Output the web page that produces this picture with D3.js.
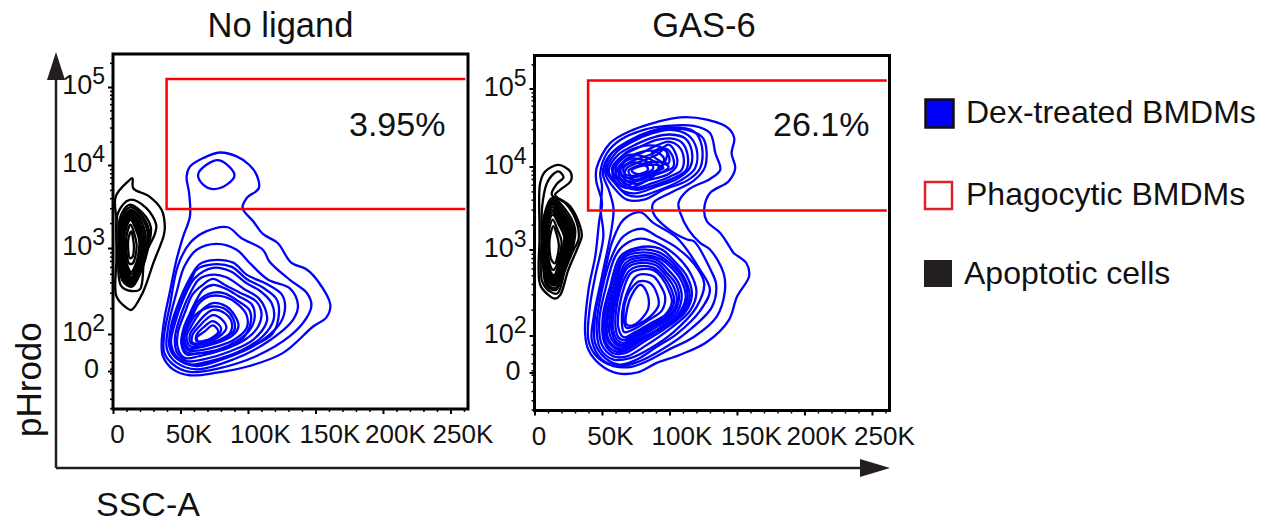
<!DOCTYPE html>
<html>
<head>
<meta charset="utf-8">
<script src="https://cdn.jsdelivr.net/npm/d3@7"></script>
<style>
body { margin: 0; background: #fff; }
text { font-family: "Liberation Sans", Arial, sans-serif; fill: #111; }
</style>
</head>
<body>
<div id="chart"></div>
<script>
// x values are SSC-A in thousands, y values are decades on the biexponential axis (2 = 10^2)
const xTicks = [0, 50, 100, 150, 200, 250];
const xTickLabels = ["0", "50K", "100K", "150K", "200K", "250K"];
const xMinorTicks = [10, 20, 30, 40, 60, 70, 80, 90, 110, 120, 130, 140, 160, 170, 180, 190, 210, 220, 230, 240, 260];
const yTicks = [0, 2, 3, 4, 5];
const yMinorTicks = [-2, -1.5, -1, -0.5, -0.12, 0.12, 0.5, 1, 1.5, 2.3, 2.48, 2.6, 2.7, 2.78, 2.85, 2.9, 2.95,
    3.3, 3.48, 3.6, 3.7, 3.78, 3.85, 3.9, 3.95, 4.3, 4.48, 4.6, 4.7, 4.78, 4.85, 4.9, 4.95, 5.3];
const gateX = [39.7, 261];
const gateY = [3.47, 5.1];
const panelTitles = ["No ligand", "GAS-6"];
const gatePercents = ["3.95%", "26.1%"];
const legendLabels = ["Dex-treated BMDMs", "Phagocytic BMDMs", "Apoptotic cells"];

const leftBlue = [
    [[79,4.16],[91.6,4.11],[101,4.0],[106.4,3.88],[108,3.72],[99,3.6],[96,3.48],[104,3.32],[111,3.17],[122,3.06],[132,2.83],[143.5,2.75],[152,2.61],[161,2.34],[158,2.19],[148.5,2.09],[126,0.98],[101,0.27],[77,-0.09],[57,-0.23],[44.5,0.09],[37,0.8],[36,1.43],[38,2.17],[42,2.48],[47,2.86],[52,3.14],[57,3.38],[56.4,3.66],[54.5,3.86],[57,3.98],[67,4.09]],
    [[79,4.06],[90,3.88],[84,3.76],[74,3.71],[67,3.76],[63,3.88],[69,4.0]],
    [[85,3.25],[95,3.12],[111,2.98],[116,2.84],[131,2.63],[143.5,2.48],[147,2.34],[143.5,2.19],[131,1.88],[106,0.8],[77,0.12],[57,-0.05],[46,0.27],[38,0.98],[38,2.0],[42,2.32],[48,2.79],[57,3.06],[69,3.2]],
    [[77,3.05],[91.6,2.98],[101,2.83],[115,2.63],[131,2.53],[137,2.34],[133.6,2.17],[114,1.55],[89,0.62],[62,0.09],[47,0.45],[40,1.16],[41,2.09],[47,2.48],[53,2.79],[62,2.98]],
    [[74,2.86],[89,2.83],[99,2.69],[114,2.58],[125,2.46],[127.5,2.32],[124,2.13],[106,1.43],[84,0.71],[62,0.27],[48,0.63],[42,1.25],[43,2.09],[49.5,2.4],[57,2.65],[64,2.81]],
    [[74,2.81],[88,2.78],[99,2.64],[111,2.54],[121,2.41],[123,2.25],[118,2.0],[100,1.25],[78,0.62],[60,0.32],[47.5,0.7],[42.5,1.38],[44,2.1],[51,2.4],[58.5,2.65],[62,2.75]],
    [[74,2.77],[87,2.73],[99,2.59],[109,2.5],[117.5,2.36],[119,2.17],[111,1.88],[94,1.07],[72,0.54],[57,0.36],[47,0.8],[43,1.52],[46,2.13],[52,2.4],[60.6,2.65]],
    [[74,2.69],[84,2.66],[96.5,2.53],[107.7,2.42],[112.6,2.3],[114,2.15],[104,1.7],[87,1.07],[67,0.63],[54.5,0.54],[47,1.07],[46,1.88],[50.7,2.24],[58,2.5],[64,2.64]],
    [[74,2.64],[84,2.56],[94,2.48],[106,2.38],[110,2.24],[107.7,2.09],[98,1.7],[82,1.16],[64,0.8],[53,0.71],[48,1.25],[48,2.01],[53,2.24],[59,2.46],[65.6,2.56]],
    [[74,2.57],[83,2.53],[93,2.44],[103,2.34],[105,2.2],[101.5,2.05],[91.6,1.61],[78,1.16],[63,0.95],[54.5,0.89],[50.7,1.43],[52,2.05],[57,2.24],[62,2.4],[67,2.52]],
    [[74,2.48],[83,2.47],[92,2.39],[101,2.28],[102,2.13],[95,1.66],[85,1.25],[70,1.0],[55,1.0],[51,1.55],[53,2.07],[58,2.23],[63,2.38]],
    [[72,2.44],[83,2.43],[93,2.34],[99,2.22],[99,2.07],[90,1.7],[78,1.34],[64,1.12],[55.7,1.12],[52,1.7],[54.5,2.09],[59,2.22],[64,2.36]],
    [[74,2.36],[84,2.32],[90,2.22],[93,2.09],[88,1.88],[77,1.52],[64,1.3],[57,1.34],[54.5,1.88],[58,2.09],[63,2.22],[68,2.31]],
    [[74,2.32],[84,2.28],[89,2.18],[90,2.05],[83,1.77],[71,1.42],[61,1.22],[56,1.22],[53,1.8],[56,2.09],[61,2.22],[66,2.28]],
    [[74,2.28],[83,2.24],[88,2.13],[86.6,2.01],[78,1.66],[65.6,1.43],[58,1.48],[57,1.96],[62,2.11],[68,2.22]],
    [[74,2.22],[80.6,2.17],[84,2.07],[79,1.88],[69,1.57],[59,1.52],[59,1.96],[64,2.09],[69,2.17]],
    [[74,2.15],[80,2.07],[78,1.96],[69,1.66],[62,1.61],[62,1.96],[68,2.09]],
    [[74,2.1],[78,2.03],[73,1.79],[64,1.55],[62,1.79],[68,2.03]]
];

const leftBlack = [
    [[14.4,3.84],[15,3.72],[27,3.62],[36,3.46],[38.4,3.26],[37.6,3.15],[30,2.83],[22,2.48],[13.6,2.28],[8.7,2.32],[2.5,2.44],[2.5,2.86],[2.5,3.33],[2,3.62],[11,3.8]],
    [[12.4,3.58],[24.7,3.48],[32,3.28],[31,3.17],[23.5,2.9],[20,2.52],[13.6,2.5],[6,2.56],[3.7,2.86],[3.7,3.42]],
    [[12,3.52],[22,3.42],[28,3.25],[26,3.0],[20,2.7],[14,2.55],[7,2.62],[4.5,3.0],[5,3.35]],
    [[12.5,3.49],[21.5,3.39],[26.5,3.22],[25,2.97],[19.5,2.69],[14,2.56],[7.5,2.64],[5,3],[5.5,3.32]],
    [[13,3.46],[21,3.36],[25.5,3.2],[24,2.95],[19,2.7],[14,2.58],[8,2.66],[5.5,3.0],[6,3.3]],
    [[13,3.44],[20,3.34],[24,3.17],[23,2.95],[18.5,2.71],[14,2.6],[8.5,2.68],[6,3],[6.5,3.29]],
    [[13,3.42],[19,3.32],[23,3.15],[22,2.95],[18,2.72],[14,2.62],[9,2.7],[6.5,3],[7,3.28]],
    [[13,3.4],[18.5,3.3],[22,3.13],[21,2.93],[17.5,2.73],[14,2.64],[9.5,2.72],[7,3],[7.5,3.26]],
    [[13,3.38],[18,3.28],[21,3.12],[20,2.92],[17,2.75],[14,2.66],[10,2.74],[7.5,3],[8,3.25]],
    [[13,3.36],[17.5,3.25],[20,3.1],[19,2.91],[16.5,2.76],[13.8,2.69],[10,2.77],[8,3],[8.5,3.22]],
    [[13,3.34],[17,3.22],[19.5,3.08],[18.5,2.9],[16,2.78],[13.5,2.72],[10.5,2.8],[8.5,3],[9,3.2]],
    [[13,3.28],[16,3.16],[17.5,3.04],[16.5,2.9],[14.5,2.82],[12,2.82],[10,2.95],[10,3.14]],
    [[13.5,3.2],[15,3.1],[15.5,3],[14.5,2.9],[12.5,2.88],[11.2,3],[11.5,3.12]]
];

const rightBlue = [
    [[108,4.63],[127.7,4.6],[143.7,4.49],[148,4.36],[146,4.17],[148.7,3.98],[143.7,3.82],[130,3.68],[125.7,3.48],[127.7,3.34],[137.6,3.2],[145,3.02],[147.5,2.96],[157,2.84],[159,2.69],[150,2.45],[144,2.18],[127.7,1.65],[108,0.96],[90.6,0.52],[76,0],[61,-0.03],[48.7,0.43],[40,1.22],[37.5,2.02],[40,2.53],[45,2.92],[48,3.35],[50,3.56],[45.7,3.83],[46,3.98],[56,4.3],[73,4.47],[90.6,4.57]],
    [[98,4.52],[118,4.52],[130,4.43],[134,4.17],[137.6,3.96],[130,3.85],[114,3.72],[106.7,3.56],[108,3.44],[114,3.24],[122.7,3.08],[130,3.0],[140,2.73],[141,2.51],[135,2.22],[118,1.92],[99,1.22],[86,0.7],[72,0.31],[58.5,0.35],[46,0.87],[40,1.74],[41,2.33],[45,2.69],[51,3.16],[49,3.48],[50,3.76],[48.7,3.92],[53.6,4.17],[63.5,4.34],[81,4.47]],
    [[96,4.47],[113,4.47],[125,4.36],[126.5,4],[118,3.83],[100.5,3.68],[88,3.56],[88,3.44],[98,3.26],[113,3.12],[118,3.1],[130.6,2.76],[134.6,2.59],[131.4,2.33],[113,2.04],[95.6,1.3],[78,0.61],[63.5,0.35],[50,0.7],[42.5,1.74],[43.7,2.2],[50,2.69],[57,3.24],[58.5,3.5],[55,3.72],[50.6,3.92],[55,4.13],[66,4.28],[81,4.4]],
    // upper population
    [[100.5,4.5],[118,4.45],[124,4.26],[122.7,3.98],[113,3.83],[95.6,3.72],[81,3.6],[68.4,3.6],[60,3.72],[52.4,3.92],[57.3,4.17],[71,4.34],[85.7,4.45]],
    [[100.5,4.47],[114,4.4],[120,4.23],[119,3.98],[108,3.83],[93,3.72],[78,3.64],[68.4,3.66],[60,3.79],[53.6,3.94],[60,4.17],[73,4.32],[88,4.43]],
    [[100.5,4.41],[111.6,4.36],[116.6,4.19],[115,3.98],[105.5,3.85],[90.6,3.76],[76,3.68],[66,3.7],[58.5,3.83],[55,3.96],[62,4.15],[76,4.29],[89.4,4.38]],
    [[100.5,4.36],[109,4.31],[113.4,4.15],[112.4,3.96],[103,3.86],[88,3.77],[76,3.72],[67,3.76],[60,3.87],[57.3,3.98],[64.7,4.13],[78,4.25],[90.6,4.34]],
    [[99.3,4.32],[106.7,4.26],[110.4,4.13],[109,3.96],[100.5,3.88],[85.7,3.79],[74.6,3.74],[66,3.81],[60,3.91],[66,4.06],[81,4.19],[92,4.28]],
    [[99.3,4.28],[104,4.19],[105.5,4.02],[99.3,3.91],[83,3.83],[74.6,3.79],[66,3.86],[63.5,3.96],[71,4.06],[85.7,4.15],[94.3,4.23]],
    [[96.8,4.23],[101.8,4.15],[103,4],[96.8,3.94],[83,3.87],[73.3,3.84],[67,3.89],[68.4,3.98],[78,4.06],[90.6,4.15]],
    [[78,4.02],[90.6,4.06],[99.3,4],[95.6,3.94],[83,3.9],[72,3.88],[69.7,3.95]],
    [[75.6,3.99],[90.6,4.02],[95.6,3.98],[88,3.94],[75.6,3.91],[72,3.95]],
    [[94.3,4.23],[99.3,4.15],[99.3,4.04],[92,4.08],[87,4.17]],
    [[70,4.15],[85,4.1],[92,4.0],[85,3.88],[72,3.82],[62,3.86],[60,3.98],[64,4.08]],
    [[72,4.1],[85,4.05],[88,3.98],[80,3.9],[70,3.86],[64,3.92],[65,4.02]],
    [[66,3.98],[72,4.05],[82,4.02],[84,3.96],[74,3.89],[67,3.91]],
    [[58,3.95],[68,4.18],[85,4.27],[98,4.2],[94,3.98],[80,3.8],[68,3.74],[60,3.82]],
    [[62,3.96],[72,4.14],[88,4.2],[96,4.1],[92,3.97],[78,3.85],[68,3.78]],
    // lower population
    [[78.3,3.45],[88,3.32],[105.5,3.14],[122.8,2.76],[130,2.53],[122.8,2.29],[105.5,2.02],[90.6,1.39],[75.8,0.7],[63.5,0.43],[52.4,0.78],[45,1.57],[45,2.25],[52.4,2.76],[57.3,3.08],[66,3.36]],
    [[79.5,3.25],[90.6,3.16],[105.5,3.02],[117.8,2.84],[125.7,2.61],[120,2.33],[103,2.04],[85.7,1.3],[71,0.78],[58.5,0.7],[48.7,1.3],[46,2.1],[50,2.53],[57.3,2.92],[66,3.16]],
    [[78.3,3.13],[93,3.06],[105.5,2.92],[115.3,2.73],[120,2.51],[115.3,2.29],[100.5,2.08],[83,1.48],[68.4,0.87],[58.5,0.87],[50,1.48],[48,2.18],[52.4,2.53],[59.8,2.92],[67,3.06]],
    [[75.8,3.02],[93,3.01],[104,2.86],[112.9,2.69],[116.6,2.47],[111.6,2.27],[96.8,2.08],[80.8,1.65],[67,1.04],[58.5,1.04],[51.6,1.65],[50.6,2.22],[56,2.57],[63.5,2.92]],
    [[75,2.99],[92,2.97],[103,2.84],[111,2.67],[115,2.46],[110,2.26],[95,2.09],[79,1.7],[66,1.13],[59,1.17],[52,1.78],[52,2.23],[57,2.57],[65,2.91]],
    [[75.8,2.96],[90.6,2.94],[101.8,2.82],[110.4,2.65],[113.4,2.45],[108,2.25],[94.3,2.1],[78.3,1.74],[66,1.22],[59.8,1.3],[53,1.91],[53.6,2.25],[58.5,2.57],[66,2.9]],
    [[77,2.93],[92,2.9],[102,2.78],[109,2.63],[112,2.44],[106,2.24],[92,2.08],[77,1.78],[66,1.32],[60,1.38],[54,1.97],[55,2.27],[60,2.57],[66,2.87]],
    [[75.8,2.9],[90.6,2.88],[99.3,2.76],[106.7,2.61],[109,2.43],[104,2.24],[90.6,2.1],[75.8,1.83],[66,1.43],[61,1.48],[55.6,2.02],[56.6,2.29],[61,2.57],[67.2,2.84]],
    [[76,2.87],[90,2.85],[98,2.73],[105,2.59],[107,2.42],[102,2.24],[89,2.11],[75,1.9],[66,1.52],[61,1.6],[57,2.06],[58,2.33],[62,2.58],[68,2.81]],
    [[75.8,2.84],[89.4,2.82],[96.8,2.71],[103,2.57],[105.5,2.41],[100.5,2.24],[88,2.12],[74.6,2],[66,1.6],[61.5,1.74],[58,2.1],[59.8,2.37],[63.5,2.6],[68.4,2.78]],
    [[76,2.8],[88,2.79],[95.5,2.69],[101,2.55],[103.5,2.4],[98.5,2.24],[87,2.13],[74.6,2.02],[66,1.75],[62,1.92],[60,2.1],[61,2.35],[65,2.6],[70,2.75]],
    [[75.8,2.76],[88,2.76],[94.3,2.67],[99.3,2.53],[101.8,2.39],[96.8,2.24],[85.7,2.14],[74.6,2.04],[66,1.91],[62,2.1],[62.8,2.33],[67.2,2.6],[71,2.72]],
    [[78.3,2.71],[88,2.69],[93,2.59],[96.8,2.45],[94.3,2.29],[84.5,2.18],[74.6,2.08],[66.4,2.04],[64.7,2.17],[66,2.37],[71,2.59],[74,2.67]],
    [[77.5,2.63],[85.7,2.61],[90.6,2.49],[91.9,2.35],[85.7,2.22],[75.8,2.12],[68,2.09],[66,2.22],[68.4,2.45],[72.9,2.57]],
    [[78.3,2.59],[83,2.51],[84.5,2.33],[80.8,2.22],[73.3,2.12],[68,2.13],[68.4,2.29],[72,2.47]]
];

const rightBlack = [
    [[17.8,4.02],[26.4,3.94],[27,3.83],[19,3.72],[15.3,3.66],[26.4,3.52],[33.8,3.28],[35,3.16],[31.4,3],[25,2.76],[19,2.47],[15.3,2.43],[10.4,2.47],[4.2,2.59],[3.7,3.12],[3.7,3.28],[4.2,3.8],[7.9,3.94]],
    [[17.8,3.94],[21.5,3.87],[16.5,3.79],[12.8,3.66],[22.7,3.56],[31.4,3.32],[32.6,3.12],[29,3],[22.7,2.76],[17,2.49],[11.6,2.51],[5.7,2.63],[5.2,3.12],[5.7,3.52],[9,3.79],[12.8,3.89]],
    [[13,3.62],[22,3.5],[30,3.25],[28,3],[21,2.72],[16,2.53],[9,2.58],[6,3.1],[7,3.4]],
    [[13,3.6],[21.5,3.47],[29,3.22],[27,2.97],[20.5,2.71],[15.5,2.55],[9.2,2.61],[6.5,3.1],[7.5,3.4]],
    [[13,3.58],[21,3.44],[28,3.2],[26,2.95],[20,2.7],[15,2.58],[9.5,2.64],[7,3.1],[8,3.4]],
    [[13,3.56],[20.5,3.42],[27,3.2],[25,2.95],[19.5,2.71],[15,2.6],[9.7,2.66],[7.5,3.1],[8.5,3.39]],
    [[13,3.54],[20,3.4],[26,3.2],[24,2.95],[19,2.72],[15,2.62],[10,2.68],[8,3.1],[9,3.38]],
    [[13,3.51],[19.5,3.38],[25,3.19],[23,2.95],[18.5,2.73],[14.7,2.64],[10.2,2.7],[8.5,3.1],[9.2,3.35]],
    [[13,3.48],[19,3.36],[24,3.18],[22,2.95],[18,2.75],[14.5,2.66],[10.5,2.72],[9,3.1],[9.5,3.32]],
    [[13.2,3.45],[18.5,3.33],[23,3.16],[21,2.95],[17.5,2.76],[14.5,2.68],[10.7,2.75],[9.2,3.08],[9.7,3.3]],
    [[13.5,3.42],[18,3.3],[22,3.15],[20,2.95],[17,2.78],[14.5,2.7],[11,2.78],[9.5,3.05],[10,3.28]],
    [[13.5,3.36],[17,3.24],[20,3.1],[18.5,2.92],[16,2.8],[14,2.76],[11.5,2.82],[10,3.05],[11,3.25]],
    [[14,3.28],[16.5,3.18],[18,3.06],[17,2.92],[15,2.84],[12.5,2.88],[11,3.05],[12,3.2]]
];

// Layout
const width = 1266, height = 523;
const plotW = 355, plotH = 355;
const panels = [
    { left: 113, top: 54, title: panelTitles[0], pct: gatePercents[0], blue: leftBlue, black: leftBlack, titleX: 280.5, pctX: 349, pctY: 136 },
    { left: 534.5, top: 55.5, title: panelTitles[1], pct: gatePercents[1], blue: rightBlue, black: rightBlack, titleX: 704, pctX: 773, pctY: 136 }
];
const xLabelShift = [4, 8, 12, 14, 12, 12];

const svg = d3.select("#chart").append("svg")
    .attr("width", width)
    .attr("height", height);

const xScale = d3.scaleLinear().domain([0, 263]).range([0, plotW]);
// the axis is not one scale: linear round 0, log above, so it is piecewise
const yScale = d3.scaleLinear()
    .domain([-2.05, 0, 2, 3, 4, 5, 5.41])
    .range([plotH, 317, 280, 194, 111, 33, 0]);

const contourLine = d3.line()
    .x(d => xScale(d[0]))
    .y(d => yScale(d[1]))
    .curve(d3.curveCatmullRomClosed.alpha(0.5));

panels.forEach(p => {
    const g = svg.append("g").attr("transform", `translate(${p.left},${p.top})`);

    g.selectAll(".black").data(p.black).enter().append("path")
        .attr("class", "black")
        .attr("d", contourLine)
        .attr("fill", "none")
        .attr("stroke", "#000")
        .attr("stroke-width", 2.3);

    g.selectAll(".blue").data(p.blue).enter().append("path")
        .attr("class", "blue")
        .attr("d", contourLine)
        .attr("fill", "none")
        .attr("stroke", "#0000ff")
        .attr("stroke-width", 2.3);

    // Gate, open at the right side
    g.append("path")
        .attr("d", d3.line()([
            [xScale(gateX[1]), yScale(gateY[1])],
            [xScale(gateX[0]), yScale(gateY[1])],
            [xScale(gateX[0]), yScale(gateY[0])],
            [xScale(gateX[1]), yScale(gateY[0])]
        ]))
        .attr("fill", "none")
        .attr("stroke", "#ff0000")
        .attr("stroke-width", 2.5);

    g.append("rect")
        .attr("width", plotW)
        .attr("height", plotH)
        .attr("fill", "none")
        .attr("stroke", "#000")
        .attr("stroke-width", 3);

    // Minor ticks
    g.append("g")
        .attr("transform", `translate(0,${plotH})`)
        .call(d3.axisBottom(xScale).tickValues(xMinorTicks).tickSize(3).tickFormat(""))
        .call(a => a.select(".domain").remove())
        .selectAll("line").attr("stroke-width", 1.5);
    g.append("g")
        .call(d3.axisLeft(yScale).tickValues(yMinorTicks).tickSize(3).tickFormat(""))
        .call(a => a.select(".domain").remove())
        .selectAll("line").attr("stroke-width", 1.5);

    // Major ticks and labels
    const xAxis = g.append("g")
        .attr("transform", `translate(0,${plotH})`)
        .call(d3.axisBottom(xScale).tickValues(xTicks).tickSize(5).tickFormat((d, i) => xTickLabels[i]));
    xAxis.select(".domain").remove();
    xAxis.selectAll("line").attr("stroke-width", 2);
    xAxis.selectAll("text")
        .attr("font-size", 26)
        .attr("dx", (d, i) => xLabelShift[i])
        .attr("y", 0)
        .attr("dy", 34);

    const yAxis = g.append("g")
        .call(d3.axisLeft(yScale).tickValues(yTicks).tickSize(5).tickFormat(""));
    yAxis.select(".domain").remove();
    yAxis.selectAll("line").attr("stroke-width", 2);
    yAxis.selectAll("text").remove();
    yAxis.selectAll(".tick").append("text")
        .attr("text-anchor", "end")
        .attr("x", d => d === 0 ? -14 : -8)
        .attr("y", 6.5)
        .attr("font-size", 27)
        .each(function (d) {
            const t = d3.select(this);
            if (d === 0) {
                t.text("0");
            } else {
                t.append("tspan").text("10");
                t.append("tspan").attr("dy", -10).attr("font-size", 23).text(d);
            }
        });

    svg.append("text")
        .attr("x", p.titleX)
        .attr("y", 37)
        .attr("text-anchor", "middle")
        .attr("font-size", 34.5)
        .text(p.title);

    svg.append("text")
        .attr("x", p.pctX)
        .attr("y", p.pctY)
        .attr("font-size", 34)
        .text(p.pct);
});

// Big axis arrows
const arrowColor = "#231f20";
svg.append("path")
    .attr("d", "M56,468V70M56,468H865")
    .attr("fill", "none")
    .attr("stroke", arrowColor)
    .attr("stroke-width", 2.5);
svg.append("path").attr("d", "M56,52L65,80H47Z").attr("fill", arrowColor);
svg.append("path").attr("d", "M890,468L860,459V477Z").attr("fill", arrowColor);

svg.append("text")
    .attr("x", 96)
    .attr("y", 516)
    .attr("font-size", 34)
    .text("SSC-A");
svg.append("text")
    .attr("transform", "translate(41,437) rotate(-90)")
    .attr("font-size", 35)
    .text("pHrodo");

// Legend
svg.append("rect").attr("x", 925.5).attr("y", 99.5).attr("width", 28).attr("height", 28)
    .attr("fill", "#0000ff").attr("stroke", "#111").attr("stroke-width", 2.5);
svg.append("rect").attr("x", 925).attr("y", 182).attr("width", 27).attr("height", 27)
    .attr("fill", "#fff").attr("stroke", "#e0202c").attr("stroke-width", 2.5);
svg.append("rect").attr("x", 924).attr("y", 260).attr("width", 28).attr("height", 27)
    .attr("fill", arrowColor);

svg.selectAll(".legend-label").data(legendLabels).enter().append("text")
    .attr("class", "legend-label")
    .attr("x", (d, i) => i === 2 ? 964 : 966)
    .attr("y", (d, i) => [123, 205, 284][i])
    .attr("font-size", 32)
    .text(d => d);
</script>
</body>
</html>
